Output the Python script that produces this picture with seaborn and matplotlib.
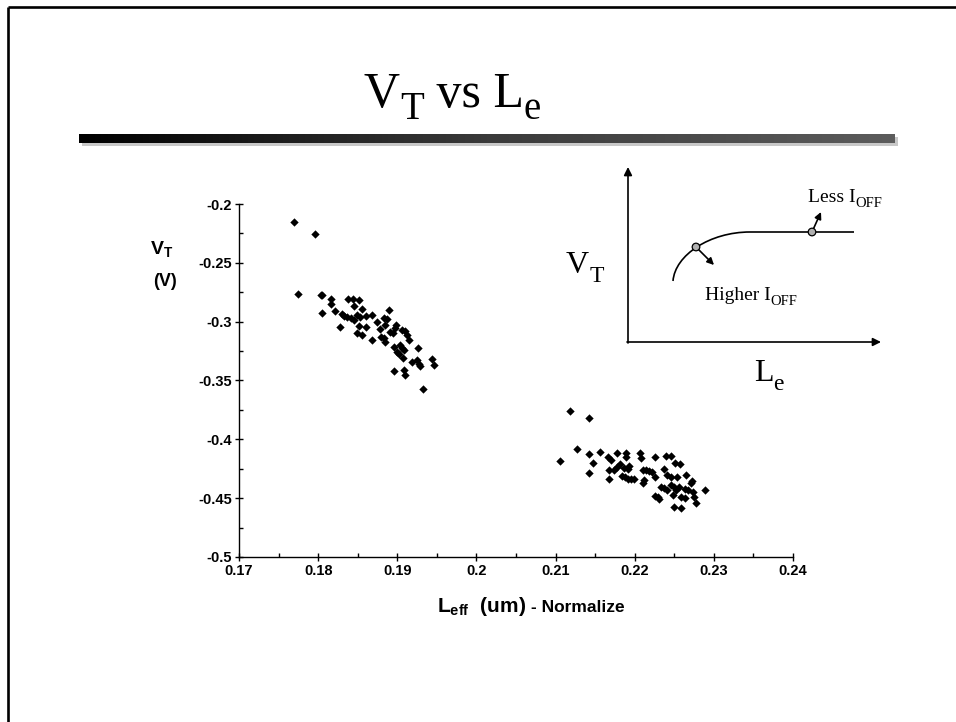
import numpy as np
import pandas as pd
import matplotlib
matplotlib.use("Agg")
import matplotlib.pyplot as plt
import seaborn as sns
from matplotlib.path import Path
from matplotlib.patches import PathPatch, Circle
from matplotlib.colors import LinearSegmentedColormap
from matplotlib.ticker import MultipleLocator, FixedLocator, FixedFormatter

# ---------------- data ----------------
leff_short = [0.1769, 0.1796, 0.1774, 0.1803, 0.1805, 0.1816, 0.1816, 0.1805, 0.1821, 0.1838,
              0.1844, 0.1852, 0.1845, 0.1856, 0.1830, 0.1833, 0.1836, 0.1841, 0.1845, 0.1827,
              0.1849, 0.1853, 0.1860, 0.1868, 0.1851, 0.1860, 0.1849, 0.1855, 0.1868, 0.1874,
              0.1878, 0.1889, 0.1883, 0.1887, 0.1885, 0.1879, 0.1883, 0.1885, 0.1891, 0.1895,
              0.1898, 0.1897, 0.1906, 0.1910, 0.1912, 0.1915, 0.1896, 0.1903, 0.1900, 0.1906,
              0.1908, 0.1902, 0.1907, 0.1926, 0.1919, 0.1925, 0.1927, 0.1929, 0.1896, 0.1908,
              0.1910, 0.1944, 0.1947, 0.1932]
vt_short = [-0.2150, -0.2258, -0.2762, -0.2771, -0.2774, -0.2808, -0.2853, -0.2929, -0.2910, -0.2810,
            -0.2808, -0.2816, -0.2867, -0.2895, -0.2938, -0.2952, -0.2963, -0.2972, -0.2986, -0.3048,
            -0.2944, -0.2958, -0.2952, -0.2944, -0.3034, -0.3048, -0.3099, -0.3114, -0.3156, -0.3000,
            -0.3065, -0.2904, -0.2972, -0.2980, -0.3029, -0.3128, -0.3142, -0.3170, -0.3085, -0.3099,
            -0.3029, -0.3057, -0.3071, -0.3077, -0.3114, -0.3156, -0.3213, -0.3199, -0.3255, -0.3227,
            -0.3241, -0.3275, -0.3312, -0.3227, -0.3346, -0.3326, -0.3360, -0.3374, -0.3417, -0.3411,
            -0.3454, -0.3318, -0.3369, -0.3575]

leff_long = [0.2118, 0.2142, 0.2106, 0.2127, 0.2142, 0.2147, 0.2142, 0.2156, 0.2166, 0.2170,
             0.2177, 0.2189, 0.2189, 0.2207, 0.2208, 0.2226, 0.2239, 0.2246, 0.2251, 0.2257,
             0.2168, 0.2174, 0.2178, 0.2182, 0.2168, 0.2187, 0.2191, 0.2193, 0.2184, 0.2188,
             0.2191, 0.2195, 0.2199, 0.2210, 0.2214, 0.2218, 0.2222, 0.2212, 0.2211, 0.2225,
             0.2237, 0.2241, 0.2246, 0.2254, 0.2265, 0.2273, 0.2271, 0.2233, 0.2237, 0.2241,
             0.2246, 0.2250, 0.2252, 0.2256, 0.2263, 0.2267, 0.2225, 0.2229, 0.2231, 0.2248,
             0.2258, 0.2263, 0.2274, 0.2275, 0.2277, 0.2289, 0.2250, 0.2258]
vt_long = [-0.3757, -0.3816, -0.4182, -0.4080, -0.4125, -0.4204, -0.4289, -0.4105, -0.4148, -0.4176,
           -0.4114, -0.4114, -0.4148, -0.4119, -0.4159, -0.4148, -0.4139, -0.4139, -0.4199, -0.4210,
           -0.4261, -0.4261, -0.4233, -0.4210, -0.4335, -0.4247, -0.4255, -0.4227, -0.4312, -0.4323,
           -0.4340, -0.4335, -0.4340, -0.4261, -0.4261, -0.4267, -0.4275, -0.4346, -0.4369, -0.4323,
           -0.4255, -0.4304, -0.4318, -0.4318, -0.4304, -0.4352, -0.4374, -0.4403, -0.4417, -0.4431,
           -0.4389, -0.4408, -0.4431, -0.4403, -0.4423, -0.4431, -0.4482, -0.4493, -0.4505, -0.4474,
           -0.4493, -0.4502, -0.4445, -0.4493, -0.4544, -0.4431, -0.4573, -0.4587]

x_ticks = [0.17, 0.18, 0.19, 0.20, 0.21, 0.22, 0.23, 0.24]
x_tick_labels = ["0.17", "0.18", "0.19", "0.2", "0.21", "0.22", "0.23", "0.24"]
y_ticks = [-0.5, -0.45, -0.4, -0.35, -0.3, -0.25, -0.2]
y_tick_labels = ["-0.5", "-0.45", "-0.4", "-0.35", "-0.3", "-0.25", "-0.2"]

df = pd.DataFrame({"Leff": leff_short + leff_long, "VT": vt_short + vt_long})

# ---------------- style ----------------
sns.set_style("white")
plt.rcParams["font.family"] = ["Liberation Sans", "DejaVu Sans"]
plt.rcParams["mathtext.fontset"] = "custom"
plt.rcParams["mathtext.rm"] = "Liberation Serif"
plt.rcParams["mathtext.it"] = "Liberation Serif:italic"
plt.rcParams["mathtext.bf"] = "Liberation Sans:bold"
for key in ["text.color", "axes.labelcolor", "xtick.color", "ytick.color", "axes.edgecolor"]:
    plt.rcParams[key] = "black"

W, H = 956, 722
fig = plt.figure(figsize=(W / 100, H / 100), dpi=100)
fig.patch.set_facecolor("white")

# main axes (pixel box: x 239..793, y 204..557)
L, R, T, B = 239, 793, 204, 557
ax = fig.add_axes([L / W, 1 - B / H, (R - L) / W, (B - T) / H])
sns.scatterplot(data=df, x="Leff", y="VT", marker="D", color="black", s=18,
                linewidth=0, ax=ax, zorder=3)
ax.set_xlim(0.17, 0.24)
ax.set_ylim(-0.5, -0.2)
ax.xaxis.set_major_locator(FixedLocator(x_ticks))
ax.xaxis.set_major_formatter(FixedFormatter(x_tick_labels))
ax.yaxis.set_major_locator(FixedLocator(y_ticks))
ax.yaxis.set_major_formatter(FixedFormatter(y_tick_labels))
ax.xaxis.set_minor_locator(MultipleLocator(0.005))
ax.yaxis.set_minor_locator(MultipleLocator(0.025))
ax.set_xlabel("")
ax.set_ylabel("")
for s in ["top", "right"]:
    ax.spines[s].set_visible(False)
for s in ["left", "bottom"]:
    ax.spines[s].set_color("black")
    ax.spines[s].set_linewidth(1.0)
ax.tick_params(which="major", direction="inout", length=6, width=1, color="black",
               labelcolor="black", labelsize=10.5, pad=2, bottom=True, left=True)
ax.tick_params(which="minor", direction="in", length=3, width=1, color="black",
               bottom=True, left=True)
for lab in ax.get_xticklabels() + ax.get_yticklabels():
    lab.set_fontweight("bold")
    lab.set_color("black")
ax.patch.set_alpha(0)

# overlay in pixel coordinates
ov = fig.add_axes([0, 0, 1, 1], zorder=5)
ov.set_xlim(0, W)
ov.set_ylim(H, 0)
ov.axis("off")
ov.patch.set_alpha(0)

SERIF = ["Liberation Serif", "DejaVu Serif"]


def chain(pieces, x, y, color="black"):
    """pieces: list of (text, fontsize, vertical shift in points relative to baseline)."""
    prev = None
    prev_shift = 0
    for txt, size, shift in pieces:
        if prev is None:
            prev = ov.text(x, y, txt, fontsize=size, family=SERIF, ha="left",
                           va="bottom", color=color)
        else:
            prev = ov.annotate(txt, xy=(1, 0), xycoords=prev,
                               xytext=(0, shift - prev_shift), textcoords="offset points",
                               fontsize=size, family=SERIF, ha="left", va="bottom",
                               color=color)
        prev_shift = shift
    return prev


# slide frame
ov.plot([8, 8], [7, H], color="black", lw=1.9, solid_capstyle="butt")
ov.plot([8, W], [7, 7], color="black", lw=1.9, solid_capstyle="butt")

# title  V_T vs L_e
chain([("V", 36, 0), ("T", 28, -7), (" vs L", 36, 0), ("e", 28, -7)], 364, 118)

# gradient bar with shadow
ov.add_patch(plt.Rectangle((82, 137), 816, 9, color="#c8c8c8", lw=0, zorder=1))
cmap = LinearSegmentedColormap.from_list("bar", ["#000000", "#3a3a3a", "#5c5c5c"])
grad = np.linspace(0, 1, 256).reshape(1, -1)
ov.imshow(grad, cmap=cmap, extent=[79, 895, 143, 134], aspect="auto", zorder=2)
ov.set_xlim(0, W)
ov.set_ylim(H, 0)

# axis labels
ov.text(162, 249, r"$\mathbf{V_T}$", fontsize=14, ha="center", va="center", color="black")
ov.text(165, 282, "(V)", fontsize=13, fontweight="bold", ha="center", va="center",
        color="black")
ov.text(437, 607, r"$\mathbf{L_{eff}}$  (um)", fontsize=15, fontweight="bold",
        ha="left", va="center", color="black")
ov.text(531, 608, "- Normalize", fontsize=12.5, fontweight="bold", ha="left", va="center",
        color="black")

# inset schematic
arrow_kw = dict(arrowstyle="-|>", color="black", lw=1.2, mutation_scale=12,
                shrinkA=0, shrinkB=0)
ov.annotate("", xy=(628, 167), xytext=(628, 343), arrowprops=arrow_kw)
ov.annotate("", xy=(881, 342), xytext=(627, 342), arrowprops=arrow_kw)
curve = Path([(673, 281), (675, 255), (710, 232), (750, 232), (854, 232)],
             [Path.MOVETO, Path.CURVE4, Path.CURVE4, Path.CURVE4, Path.LINETO])
ov.add_patch(PathPatch(curve, fill=False, color="black", lw=1.2))
small_kw = dict(arrowstyle="-|>", color="black", lw=1.2, mutation_scale=10,
                shrinkA=0, shrinkB=0)
ov.annotate("", xy=(714, 265), xytext=(696, 247), arrowprops=small_kw)
ov.annotate("", xy=(821, 212), xytext=(812, 232), arrowprops=small_kw)
for cx, cy in [(696, 247), (812, 232)]:
    ov.add_patch(Circle((cx, cy), 3.8, facecolor="#b0b0b0", edgecolor="black",
                        lw=0.9, zorder=6))
chain([("Less I", 14, 0), ("OFF", 10.5, -3)], 808, 206)
chain([("Higher I", 14, 0), ("OFF", 10.5, -3)], 705, 304)
chain([("V", 23, 0), ("T", 17, -5)], 566, 280)
chain([("L", 23, 0), ("e", 17, -5)], 754, 388)

fig.savefig("out.png", dpi=100, facecolor="white")
